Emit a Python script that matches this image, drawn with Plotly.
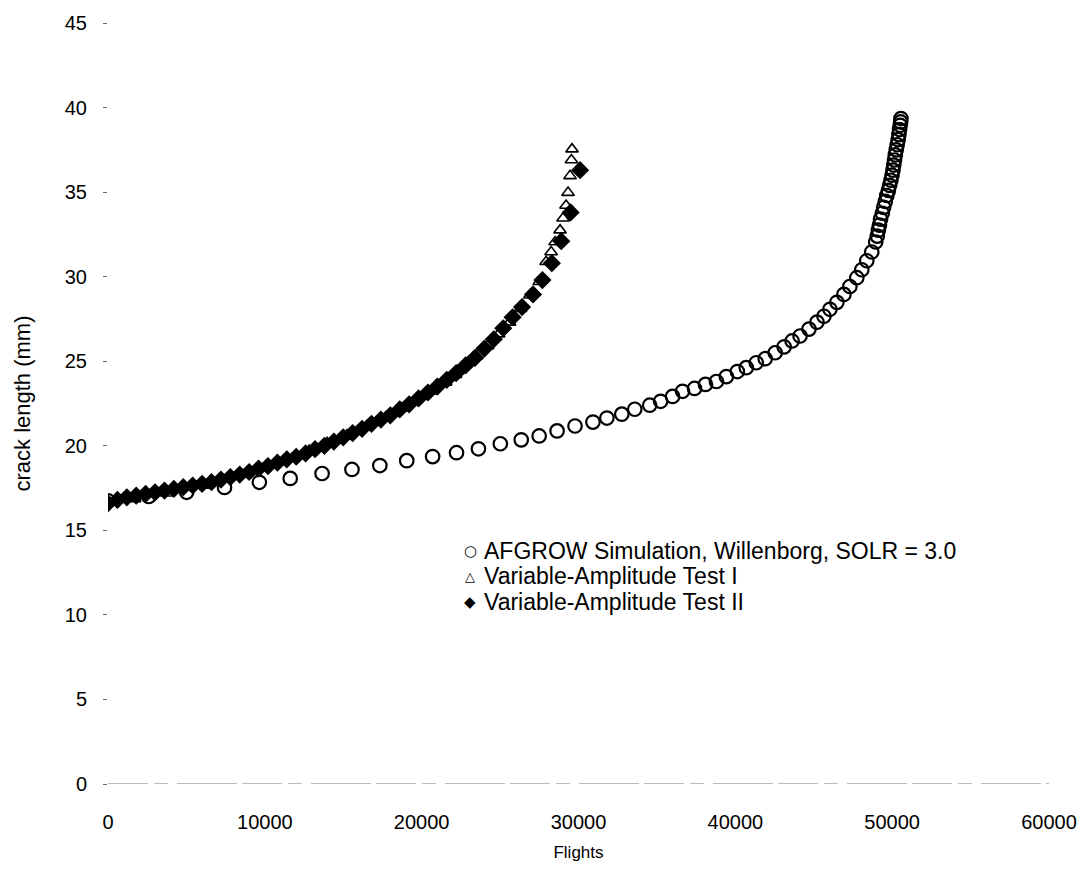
import plotly.graph_objects as go

# AFGROW simulation (Willenborg retardation, SOLR = 3.0)
afgrow_flights = [0, 2600, 5016, 7429, 9651, 11619, 13651, 15556, 17333, 19048,
                  20698, 22222, 23619, 25016, 26349, 27492, 28635, 29778, 30921, 31810,
                  32762, 33587, 34540, 35238, 36000, 36635, 37397, 38095, 38794, 39429,
                  40127, 40698, 41333, 41905, 42540, 43111, 43619, 44127, 44698, 45206,
                  45651, 46032, 46476, 46921, 47302, 47746, 48063, 48381, 48698, 48950,
                  49050, 49120, 49190, 49260, 49370, 49460, 49560, 49660, 49760, 49840,
                  49920, 49990, 50050, 50100, 50150, 50200, 50260, 50320, 50380, 50430,
                  50470, 50510, 50540, 50560]
afgrow_crack = [16.75, 17.0, 17.25, 17.54, 17.84, 18.07, 18.36, 18.60, 18.83, 19.12,
                19.36, 19.59, 19.82, 20.12, 20.35, 20.58, 20.88, 21.17, 21.40, 21.64,
                21.87, 22.16, 22.40, 22.63, 22.92, 23.22, 23.39, 23.63, 23.80, 24.09,
                24.39, 24.62, 24.91, 25.15, 25.50, 25.85, 26.20, 26.49, 26.90, 27.31,
                27.66, 28.07, 28.48, 28.95, 29.42, 29.94, 30.41, 30.94, 31.46, 32.05,
                32.40, 32.75, 33.05, 33.40, 33.75, 34.10, 34.45, 34.80, 35.10, 35.40,
                35.70, 36.00, 36.30, 36.60, 36.90, 37.20, 37.50, 37.80, 38.10, 38.40,
                38.70, 38.95, 39.15, 39.35]

# Variable-amplitude test I
test1_flights = [0, 1700, 3746, 6286, 8825, 10095, 11429, 12825, 13968, 15238,
                 16508, 17714, 18730, 19683, 20635, 21524, 22159, 22794, 23500, 24200,
                 24900, 25600, 26300, 26900, 27500, 27937, 28254, 28508, 28825, 29016,
                 29206, 29333, 29460, 29550, 29587]
test1_crack = [16.7, 16.85, 17.19, 17.66, 18.36, 18.83, 19.30, 19.71, 20.18, 20.64,
               21.17, 21.70, 22.22, 22.75, 23.22, 23.74, 24.21, 24.80, 25.30, 25.90,
               26.60, 27.30, 28.10, 28.90, 29.70, 30.88, 31.46, 32.05, 32.75, 33.45,
               34.21, 34.97, 35.96, 36.90, 37.54]

# Variable-amplitude test II
test2_flights = [0, 600, 1200, 1800, 2400, 3000, 3600, 4200, 4800, 5400,
                 6000, 6600, 7200, 7800, 8400, 9000, 9600, 10200, 10800, 11400,
                 12000, 12600, 13200, 13800, 14400, 15000, 15600, 16200, 16800, 17400,
                 18000, 18600, 19200, 19800, 20400, 21000, 21600, 22200, 22800, 23400,
                 24000, 24600, 25200, 25800, 26400, 27100, 27700, 28300, 28900, 29500,
                 30100]
test2_crack = [16.6, 16.8, 16.95, 17.05, 17.15, 17.25, 17.35, 17.45, 17.55, 17.65,
               17.75, 17.85, 18.0, 18.15, 18.3, 18.45, 18.65, 18.8, 19.0, 19.2,
               19.35, 19.55, 19.8, 20.0, 20.25, 20.5, 20.75, 21.0, 21.3, 21.55,
               21.8, 22.15, 22.45, 22.8, 23.15, 23.5, 23.9, 24.3, 24.75, 25.2,
               25.75, 26.3, 26.95, 27.6, 28.2, 28.95, 29.8, 30.8, 32.1, 33.8,
               36.3]

x_ticks = [0, 10000, 20000, 30000, 40000, 50000, 60000]
y_ticks = [0, 5, 10, 15, 20, 25, 30, 35, 40, 45]

series_names = ["AFGROW Simulation, Willenborg, SOLR = 3.0",
                "Variable-Amplitude Test I",
                "Variable-Amplitude Test II"]
legend_glyphs = ["○", "△", "◆"]

FONT = "Liberation Sans, Arial, sans-serif"

fig = go.Figure()
fig.add_trace(go.Scatter(
    x=afgrow_flights, y=afgrow_crack, mode="markers", name=series_names[0],
    marker=dict(symbol="circle-open", size=13.5, color="black", line=dict(width=2.2)),
))
fig.add_trace(go.Scatter(
    x=test1_flights, y=test1_crack, mode="markers", name=series_names[1],
    marker=dict(symbol="triangle-up-open", size=11, color="black", line=dict(width=1.6)),
))
fig.add_trace(go.Scatter(
    x=test2_flights, y=test2_crack, mode="markers", name=series_names[2],
    marker=dict(symbol="diamond", size=14, color="black", line=dict(width=0)),
))

# faint broken baseline along crack length = 0
fig.add_shape(type="line", xref="x", yref="y", x0=0, x1=60000, y0=0, y1=0,
              line=dict(color="#7a7a7a", width=1.2, dash="40px,6px,14px,9px,60px,5px"))

# legend block drawn as text lines inside the plot area
legend_x = 0.385      # paper fraction of the symbol column
text_x = 0.397        # paper fraction where the series names start
legend_top = 0.3065   # paper fraction of the first line
line_step = 0.0338
glyph_sizes = [15, 13, 15]
for i, (glyph, name) in enumerate(zip(legend_glyphs, series_names)):
    yy = legend_top - i * line_step
    fig.add_annotation(x=legend_x, y=yy, xref="paper", yref="paper",
                       text=glyph, showarrow=False, xanchor="center", yanchor="middle",
                       font=dict(size=glyph_sizes[i], family="DejaVu Sans", color="black"))
    fig.add_annotation(x=text_x, y=yy, xref="paper", yref="paper",
                       text=name, showarrow=False, xanchor="left", yanchor="middle",
                       font=dict(size=23, family=FONT, color="black"))

fig.update_layout(
    width=1089, height=871,
    margin=dict(l=108, r=36, t=15, b=86),
    paper_bgcolor="white", plot_bgcolor="white",
    font=dict(family=FONT, color="black"),
    showlegend=False,
    xaxis=dict(
        range=[0, 60000], tickvals=x_ticks, ticktext=[str(v) for v in x_ticks],
        showgrid=False, zeroline=False, showline=False, ticks="",
        tickfont=dict(size=20), ticklabelstandoff=24,
        title=dict(text="Flights", font=dict(size=17), standoff=14),
    ),
    yaxis=dict(
        range=[0, 45], tickvals=y_ticks, ticktext=[str(v) for v in y_ticks],
        showgrid=False, zeroline=False, showline=False,
        ticks="outside", ticklen=4, tickcolor="#666", tickwidth=1,
        tickfont=dict(size=20), ticklabelstandoff=12,
        title=dict(text="crack length (mm)", font=dict(size=22), standoff=28),
    ),
)

fig.write_html("out.html")
